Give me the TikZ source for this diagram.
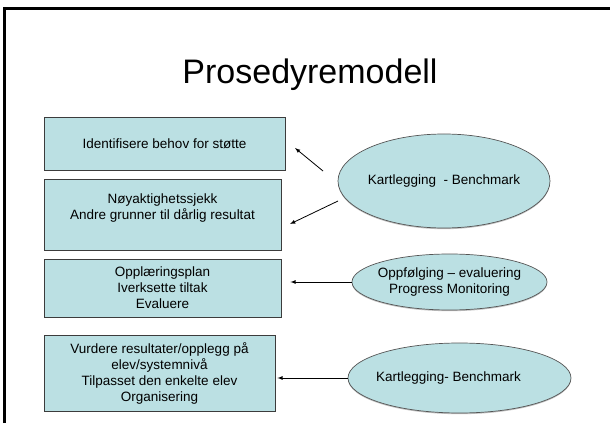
\documentclass[tikz,border=0pt]{standalone}
\usepackage{fontspec}
\setmainfont{Liberation Sans}
\usetikzlibrary{shapes, arrows, shadows, calc, positioning}
\definecolor{boxfill}{RGB}{187,224,227}
\definecolor{boxline}{RGB}{60,60,60}
\definecolor{ovalline}{RGB}{85,85,85}
\tikzset{stepbox/.style={draw=boxline, fill=boxfill, line width=0.9pt, anchor=center, align=center, font=\fontsize{13.5}{16}\selectfont}}
\tikzset{survey/.style={ellipse, draw=ovalline, fill=boxfill, line width=0.7pt, inner xsep=-30pt, inner ysep=0pt, align=center, font=\fontsize{13.5}{16}\selectfont, drop shadow={shadow xshift=0pt, shadow yshift=-1.2pt, opacity=0.5}}}
\tikzset{pointer/.style={-latex, line width=0.8pt}}

\begin{document}
\begin{tikzpicture}[x=1pt, y=1pt]
\useasboundingbox (0,0) rectangle (610,423);
\draw[line width=2.7pt] (4.7,0) -- (4.7,414.3) -- (610,414.3);

\node[font=\fontsize{34}{40}\selectfont, anchor=base] (title) at (310,339) {Prosedyremodell};

\node[stepbox, minimum width=241pt, minimum height=53pt] (need)   at (164.5,279.5) {Identifisere behov for støtte};
\node[stepbox, minimum width=237pt, minimum height=71pt] (check)  at (162.5,208.5) {Nøyaktighetssjekk\\Andre grunner til dårlig resultat\\~};
\node[stepbox, minimum width=237pt, minimum height=58pt] (plan)   at (162.5,135)   {Opplæringsplan\\Iverksette tiltak\\Evaluere};
\node[stepbox, minimum width=231pt, minimum height=76pt] (review) at (159.5,50)    {Vurdere resultater/opplegg på\\elev/systemnivå\\Tilpasset den enkelte elev\\Organisering};

\node[survey, minimum width=212pt, minimum height=94pt] (bench)   at (444,242)   {Kartlegging\ \ - Benchmark};
\node[survey, minimum width=195pt, minimum height=56pt] (monitor) at (449.5,141) {Oppfølging – evaluering\\Progress Monitoring};
\node[survey, minimum width=223pt, minimum height=70pt] (bench2)  at (459.5,45)  {Kartlegging- Benchmark\hspace*{22pt}};

\coordinate (from1) at (323,252);
\coordinate (tip1)  at (295,275);
\coordinate (from2) at (338,222);
\coordinate (tip2)  at (290,199);
\draw[pointer] (from1) -- (tip1);
\draw[pointer] (from2) -- (tip2);
\draw[pointer, shorten >=9pt] (monitor.west) -- (monitor.west -| plan.east);
\draw[pointer, shorten >=2pt] (bench2.west) -- (bench2.west -| review.east);
\end{tikzpicture}
\end{document}
